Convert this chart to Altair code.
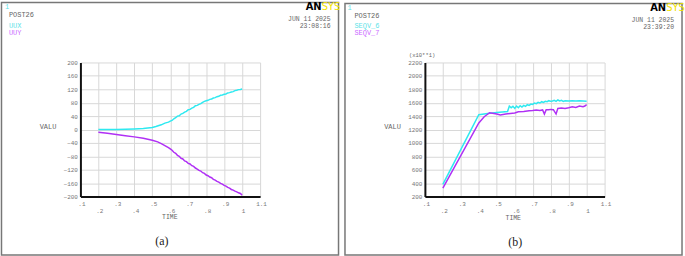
import altair as alt
import pandas as pd

# ---------------- data ----------------
X_TICKS = [0.1, 0.2, 0.3, 0.4, 0.5, 0.6, 0.7, 0.8, 0.9, 1.0, 1.1]
X_LABELS = [".1", ".2", ".3", ".4", ".5", ".6", ".7", ".8", ".9", "1", "1.1"]
Y_TICKS_A = [-200, -160, -120, -80, -40, 0, 40, 80, 120, 160, 200]
Y_TICKS_B = [200, 400, 600, 800, 1000, 1200, 1400, 1600, 1800, 2000, 2200]

SERIES_A = ["UUX", "UUY"]
SERIES_B = ["SEQV_6", "SEQV_7"]

TIME_UX = [0.20, 0.25, 0.30, 0.35, 0.40, 0.45, 0.50, 0.52, 0.55, 0.57, 0.59,
           0.60, 0.61, 0.62, 0.63, 0.64, 0.65, 0.66, 0.67, 0.68, 0.69, 0.70,
           0.71, 0.72, 0.73, 0.74, 0.75, 0.76, 0.77, 0.78, 0.79, 0.80, 0.81,
           0.82, 0.83, 0.84, 0.85, 0.86, 0.87, 0.88, 0.89, 0.90, 0.91, 0.92,
           0.93, 0.94, 0.95, 0.96, 0.97, 0.98, 0.99, 1.00]
UX = [0, 0, 0, 0.5, 1.5, 3, 6, 9, 14, 19, 22,
      25, 27, 32, 35, 40, 41, 46, 48, 52, 54, 59,
      60, 64, 66, 71, 72, 75, 77, 81, 84, 86, 87,
      90, 91, 94, 95, 98, 99, 102, 103, 105, 106, 109,
      110, 112, 113, 116, 117, 119, 119.5, 121]

TIME_UY = [0.20, 0.25, 0.30, 0.35, 0.40, 0.45, 0.50, 0.53, 0.55, 0.57, 0.59,
           0.60, 0.61, 0.62, 0.63, 0.64, 0.65, 0.66, 0.67, 0.68, 0.69, 0.70,
           0.71, 0.72, 0.73, 0.74, 0.75, 0.76, 0.77, 0.78, 0.79, 0.80, 0.81,
           0.82, 0.83, 0.84, 0.85, 0.86, 0.87, 0.88, 0.89, 0.90, 0.91, 0.92,
           0.93, 0.94, 0.95, 0.96, 0.97, 0.98, 0.99, 1.00]
UY = [-8, -11.5, -15, -18.5, -22, -26, -32, -37, -42, -48, -54,
      -58, -62, -68, -71, -77, -80, -86, -88, -94, -96, -101,
      -103, -108, -110, -115, -118, -122, -124, -129, -131, -136, -138,
      -142, -144, -149, -151, -155, -157, -161, -163, -167, -169, -173,
      -175, -179, -181, -184, -186, -189, -191, -196]

TIME_S6 = [0.20, 0.40, 0.45, 0.50, 0.56, 0.57, 0.58, 0.59, 0.60, 0.61, 0.62,
           0.63, 0.64, 0.65, 0.66, 0.67, 0.68, 0.69, 0.70, 0.71, 0.72, 0.73,
           0.74, 0.75, 0.76, 0.77, 0.78, 0.79, 0.80, 0.81, 0.82, 0.83, 0.84,
           0.85, 0.86, 0.87, 0.88, 0.90, 0.92, 0.94, 0.96, 0.98, 1.00]
S6 = [380, 1420, 1440, 1455, 1468, 1550, 1525, 1545, 1515, 1550, 1525,
      1555, 1535, 1560, 1545, 1570, 1560, 1580, 1575, 1595, 1585, 1605,
      1595, 1615, 1605, 1620, 1615, 1630, 1620, 1625, 1635, 1620, 1640,
      1625, 1635, 1620, 1630, 1625, 1630, 1625, 1630, 1625, 1620]

TIME_S7 = [0.20, 0.40, 0.43, 0.46, 0.50, 0.52, 0.55, 0.60, 0.62, 0.65, 0.68,
           0.70, 0.72, 0.74, 0.755, 0.765, 0.775, 0.79, 0.80, 0.815, 0.83,
           0.84, 0.86, 0.88, 0.90, 0.92, 0.94, 0.96, 0.98, 0.99, 1.00]
S7 = [325, 1297, 1390, 1451, 1431, 1418, 1431, 1446, 1465, 1470, 1478,
      1482, 1490, 1485, 1492, 1430, 1495, 1495, 1500, 1495, 1430,
      1515, 1520, 1515, 1525, 1540, 1530, 1550, 1540, 1550, 1570]

CYAN = "#2ee9f0"
MAGENTA = "#b030f5"
CYAN_TXT = "#5fe3e8"
MAGENTA_TXT = "#cc6cff"
GRAY_TXT = "#666666"
MONO = "Liberation Mono"

ONE = pd.DataFrame({"k": [0]})

df_a = pd.concat([
    pd.DataFrame({"t": TIME_UX, "v": UX, "s": SERIES_A[0]}),
    pd.DataFrame({"t": TIME_UY, "v": UY, "s": SERIES_A[1]}),
])
df_b = pd.concat([
    pd.DataFrame({"t": TIME_S6, "v": S6, "s": SERIES_B[0]}),
    pd.DataFrame({"t": TIME_S7, "v": S7, "s": SERIES_B[1]}),
])

label_arr = "[" + ",".join("'%s'" % l for l in X_LABELS) + "]"
x_label_expr = ("round(datum.value*10) % 2 == 0 ? ['', {a}[round(datum.value*10)-1]] "
                ": {a}[round(datum.value*10)-1]").format(a=label_arr)

W, H = 181, 135


def txt(s, x, y, color=GRAY_TXT, size=7, font=MONO, align="left", weight="normal"):
    return alt.Chart(ONE).mark_text(
        text=s, align=align, baseline="middle", font=font, fontSize=size,
        color=color, fontWeight=weight
    ).encode(x=alt.value(x), y=alt.value(y))


def panel(df, series, ydom, yticks, frame, texts):
    xaxis = alt.Axis(values=X_TICKS, labelExpr=x_label_expr, grid=True,
                     gridColor="#d8d8d8", gridWidth=1, domainColor="#111111",
                     domainWidth=2, ticks=False, labelFont=MONO, labelFontSize=6,
                     labelColor="#777777", labelPadding=4, labelBaseline="top",
                     labelLineHeight=7, labelFlush=False, labelOverlap=False,
                     labelOffset=1, title=None)
    yaxis = alt.Axis(values=yticks, format="d", grid=True, gridColor="#d8d8d8",
                     gridWidth=1, domainColor="#111111", domainWidth=2,
                     ticks=False, labelFont=MONO, labelFontSize=6,
                     labelColor="#777777", labelPadding=3, labelFlush=False,
                     labelOverlap=False, title=None)
    lines = alt.Chart(df).mark_line(strokeWidth=1.5).encode(
        x=alt.X("t:Q", scale=alt.Scale(domain=[0.1, 1.1], nice=False, zero=False), axis=xaxis),
        y=alt.Y("v:Q", scale=alt.Scale(domain=ydom, nice=False, zero=False), axis=yaxis),
        color=alt.Color("s:N", scale=alt.Scale(domain=series, range=[CYAN, MAGENTA]), legend=None),
    )
    fx1, fx2, fy1, fy2 = frame
    border = alt.Chart(ONE).mark_rect(fill="white", fillOpacity=0, stroke="#777777",
                                      strokeWidth=1.5).encode(
        x=alt.value(fx1), x2=alt.value(fx2), y=alt.value(fy1), y2=alt.value(fy2))
    return alt.layer(border, lines, *texts).properties(width=W, height=H)


def logo(x, y):
    return [
        txt("AN", x, y, color="#000000", size=10, font="DejaVu Sans", align="right", weight="bold"),
        txt("SYS", x, y, color="#f2e200", size=10, font="DejaVu Sans", align="left"),
    ]


texts_a = [
    txt("1", -76, -56, color=CYAN_TXT, size=7),
    txt("POST26", -72, -48),
    txt("UUX", -72, -37, color=CYAN_TXT),
    txt("UUY", -72, -30, color=MAGENTA_TXT),
    *logo(243, -56),
    txt("JUN 11 2025", 252, -44, size=6.5, align="right"),
    txt("23:08:16", 252, -37, size=6.5, align="right"),
    txt("VALU", -41, 65),
    txt("TIME", 90, 156, size=6.5, align="center"),
    txt("(a)", 82, 180, color="#222222", size=12, font="Liberation Serif", align="center"),
]
texts_b = [
    txt("1", -78, -55, color=CYAN_TXT, size=7),
    txt("POST26", -71, -47),
    txt("SEQV_6", -71, -37, color=CYAN_TXT),
    txt("SEQV_7", -71, -30, color=MAGENTA_TXT),
    *logo(243, -55),
    txt("JUN 11 2025", 251, -43, size=6.5, align="right"),
    txt("23:39:20", 251, -36, size=6.5, align="right"),
    txt("(x10**1)", -16, -8, size=5.5),
    txt("VALU", -41, 65),
    txt("TIME", 89, 157, size=6.5, align="center"),
    txt("(b)", 91, 181, color="#222222", size=12, font="Liberation Serif", align="center"),
]

pa = panel(df_a, SERIES_A, [-200, 200], Y_TICKS_A, (-79.5, 260, -60.5, 194), texts_a)
pb = panel(df_b, SERIES_B, [200, 2200], Y_TICKS_B, (-80.5, 259, -59.5, 194), texts_b)

chart = alt.hconcat(pa, pb, spacing=3).properties(padding=0, background="white").configure_view(stroke=None)

chart.save("out.html", embed_options={"renderer": "svg", "actions": False})
